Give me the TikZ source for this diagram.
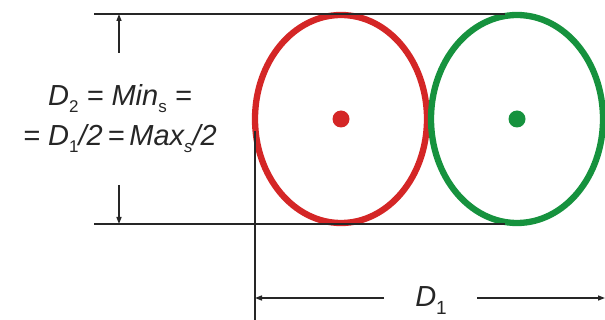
\documentclass[tikz,border=0pt]{standalone}
\usepackage{fontspec}
\setmainfont{Liberation Sans}
\usetikzlibrary{arrows.meta}
\definecolor{cred}{RGB}{212,38,38}
\definecolor{cgreen}{RGB}{22,146,62}
\newcommand{\lowsub}[1]{\raisebox{-7pt}{\fontsize{17}{17}\selectfont #1}}
\newcommand{\bigsub}[1]{\raisebox{-9pt}{\fontsize{19}{19}\selectfont #1}}
\begin{document}
\begin{tikzpicture}[x=1pt,y=-1pt,
  dim/.style={line width=1.3pt, black!85},
  tip/.style={-{Triangle[length=7pt,width=5pt]}},
  lab/.style={font=\fontsize{29}{34}\selectfont\itshape, inner sep=0pt, anchor=base, text=black!85},
  oval/.style={line width=6.3pt}]
\useasboundingbox (0,0) rectangle (605,320);
% reference coordinates
\coordinate (TL) at (94,14);  \coordinate (TR) at (505,14);
\coordinate (BL) at (94,224); \coordinate (BR) at (505,224);
\coordinate (RC) at (341,119); \coordinate (GC) at (517,119);
\coordinate (V1) at (119,53);  \coordinate (V1e) at (119,14);
\coordinate (V2) at (119,185); \coordinate (V2e) at (119,224);
\coordinate (X0) at (255,131); \coordinate (X1) at (255,320);
\coordinate (H1) at (384,298); \coordinate (H1e) at (255,298);
\coordinate (H2) at (477,298); \coordinate (H2e) at (605,298);
% ellipses
\draw[oval,cred] (RC) ellipse [x radius=86, y radius=104];
\draw[oval,cgreen] (GC) ellipse [x radius=86, y radius=104];
\fill[cred] (RC) circle [radius=8.5];
\fill[cgreen] (GC) circle [radius=8.5];
% dimension lines
\draw[dim] (TL) -- (TR);
\draw[dim] (BL) -- (BR);
\draw[dim,tip] (V1) -- (V1e);
\draw[dim,tip] (V2) -- (V2e);
\draw[dim] (X0) -- (X1);
\draw[dim,tip] (H1) -- (H1e);
\draw[dim,tip] (H2) -- (H2e);
% labels
\node[lab] (l1) at (120,106) {D\lowsub{\upshape 2} = Min\lowsub{\upshape s} =};
\node[lab] (l2) at (120,146) {= D\lowsub{\upshape 1}/2\,=\,Max\lowsub{s}/2};
\node[lab] (d1) at (431,306) {D\bigsub{\upshape 1}};
\end{tikzpicture}
\end{document}
